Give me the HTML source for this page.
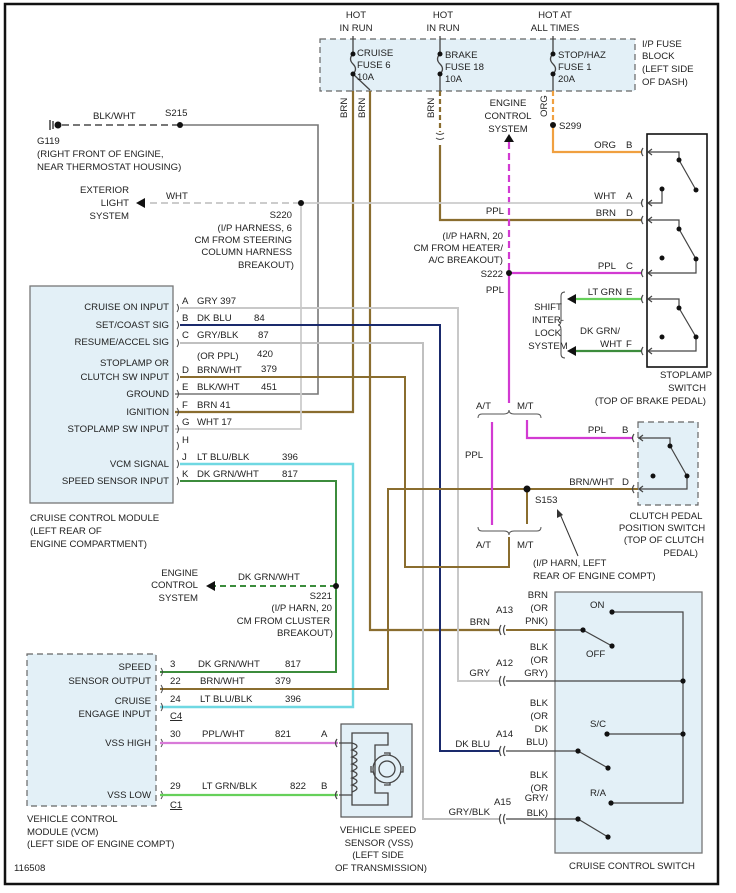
<!DOCTYPE html>
<html><head><meta charset="utf-8"><style>
html,body{margin:0;padding:0;background:#fff;}
svg{display:block;}
text{font-family:"Liberation Sans",sans-serif;font-size:9.6px;fill:#222;}
.r{text-anchor:end}.m{text-anchor:middle}
</style></head><body>
<svg width="736" height="893" viewBox="0 0 736 893" xmlns="http://www.w3.org/2000/svg">
<rect x="0" y="0" width="736" height="893" fill="#fff"/>
<rect x="5" y="4" width="713" height="880" fill="none" stroke="#111" stroke-width="2.5"/>

<!-- Fuse block -->
<rect x="320" y="39" width="315" height="52" fill="#e3f0f7" stroke="#666" stroke-width="1.2" stroke-dasharray="6,4"/>
<text class="m" x="356" y="18">HOT</text><text class="m" x="356" y="31">IN RUN</text>
<text class="m" x="443" y="18">HOT</text><text class="m" x="443" y="31">IN RUN</text>
<text class="m" x="555" y="18">HOT AT</text><text class="m" x="555" y="31">ALL TIMES</text>
<text x="642" y="47">I/P FUSE</text><text x="642" y="59">BLOCK</text><text x="642" y="72">(LEFT SIDE</text><text x="642" y="85">OF DASH)</text>
<g stroke="#444" stroke-width="1.3" fill="none">
<path d="M353 36V54 M353 74V91 M353 54q-5 5 0 10q5 5 0 10 M353 74L370 90"/>
<path d="M440 36V54 M440 74V91 M440 54q-5 5 0 10q5 5 0 10"/>
<path d="M553 36V54 M553 74V91 M553 54q-5 5 0 10q5 5 0 10"/>
</g>
<g fill="#111"><circle cx="353" cy="54" r="2.5"/><circle cx="353" cy="74" r="2.5"/><circle cx="440" cy="54" r="2.5"/><circle cx="440" cy="74" r="2.5"/><circle cx="553" cy="54" r="2.5"/><circle cx="553" cy="74" r="2.5"/></g>
<text x="357" y="56">CRUISE</text><text x="357" y="68">FUSE 6</text><text x="357" y="80">10A</text>
<text x="445" y="58">BRAKE</text><text x="445" y="70">FUSE 18</text><text x="445" y="82">10A</text>
<text x="558" y="58">STOP/HAZ</text><text x="558" y="70">FUSE 1</text><text x="558" y="82">20A</text>
<text transform="translate(347,118) rotate(-90)">BRN</text>
<text transform="translate(365,118) rotate(-90)">BRN</text>
<text transform="translate(434,118) rotate(-90)">BRN</text>
<text transform="translate(547,117) rotate(-90)">ORG</text>

<!-- BRN wires -->
<g stroke="#8a6d2f" stroke-width="2.2" fill="none">
<path d="M353 91V412H175"/>
<path d="M370 91V630H500"/>
<path d="M440 91V132" stroke-dasharray="5,3"/>
<path d="M440 145V220H641"/>
</g>
<path d="M436 133q4 3 8 0 M436 138q4 3 8 0" stroke="#444" fill="none"/>
<!-- ORG -->
<path d="M553 91V125" stroke="#f0a040" stroke-width="2.2" stroke-dasharray="5,3" fill="none"/>
<path d="M553 125V152H641" stroke="#f0a040" stroke-width="2.2" fill="none"/>
<circle cx="553" cy="125" r="3" fill="#111"/><text x="559" y="129">S299</text>

<!-- Engine control system top -->
<text class="m" x="508" y="106">ENGINE</text><text class="m" x="508" y="119">CONTROL</text><text class="m" x="508" y="132">SYSTEM</text>
<path d="M509 134l-5 8h10z" fill="#111"/>
<path d="M509 142V273" stroke="#d23ad2" stroke-width="2.2" stroke-dasharray="7,4" fill="none"/>
<path d="M509 273V403 M509 273H641" stroke="#d23ad2" stroke-width="2.2" fill="none"/>
<circle cx="509" cy="273" r="3" fill="#111"/>
<text class="r" x="504" y="214">PPL</text><text class="r" x="503" y="277">S222</text><text class="r" x="504" y="293">PPL</text>
<text class="r" x="503" y="239">(I/P HARN, 20</text><text class="r" x="503" y="251">CM FROM HEATER/</text><text class="r" x="503" y="263">A/C BREAKOUT)</text>

<!-- Left top: ground & exterior -->
<path d="M50 120V130 M53 121V129" stroke="#111" stroke-width="1.2"/>
<circle cx="58" cy="125" r="3.5" fill="#111"/>
<path d="M62 125H180" stroke="#777" stroke-width="2" stroke-dasharray="7,4"/>
<path d="M180 125H318V394H175" stroke="#777" stroke-width="1.6" fill="none"/>
<circle cx="180" cy="125" r="3" fill="#111"/>
<text x="93" y="119">BLK/WHT</text><text x="165" y="116">S215</text>
<text x="37" y="144">G119</text><text x="37" y="157">(RIGHT FRONT OF ENGINE,</text><text x="37" y="170">NEAR THERMOSTAT HOUSING)</text>
<text class="r" x="129" y="193">EXTERIOR</text><text class="r" x="129" y="206">LIGHT</text><text class="r" x="129" y="219">SYSTEM</text>
<path d="M136 203l9-5v10z" fill="#111"/>
<path d="M150 203H301" stroke="#ccc" stroke-width="2" stroke-dasharray="7,4"/>
<path d="M301 203H641 M301 203V429H175" stroke="#ccc" stroke-width="1.8" fill="none"/>
<circle cx="301" cy="203" r="3" fill="#111"/>
<text x="166" y="199">WHT</text>
<text class="r" x="292" y="218">S220</text><text class="r" x="292" y="231">(I/P HARNESS, 6</text><text class="r" x="292" y="243">CM FROM STEERING</text><text class="r" x="292" y="255">COLUMN HARNESS</text><text class="r" x="294" y="268">BREAKOUT)</text>

<!-- Stoplamp switch -->
<text class="r" x="616" y="148">ORG</text><text x="626" y="148">B</text>
<text class="r" x="616" y="199">WHT</text><text x="626" y="199">A</text>
<text class="r" x="616" y="216">BRN</text><text x="626" y="216">D</text>
<text class="r" x="616" y="269">PPL</text><text x="626" y="269">C</text>
<text class="r" x="622" y="295">LT GRN</text><text x="626" y="295">E</text>
<text class="r" x="620" y="334">DK GRN/</text><text class="r" x="622" y="347">WHT</text><text x="626" y="347">F</text>
<rect x="647" y="134" width="60" height="233" fill="#fff" stroke="#111" stroke-width="1.6"/>
<path d="M575 299H641" stroke="#66d05a" stroke-width="2.2"/>
<path d="M575 351H641" stroke="#3c8c3c" stroke-width="2.2"/>
<path d="M567 299l9-5v10z M567 351l9-5v10z" fill="#111"/>
<path d="M565 292q-4 0-4 4v24q0 5-3 5q3 0 3 5v24q0 4 4 4" stroke="#444" fill="none"/>
<text class="m" x="548" y="310">SHIFT</text><text class="m" x="548" y="323">INTER-</text><text class="m" x="548" y="336">LOCK</text><text class="m" x="548" y="349">SYSTEM</text>
<g stroke="#444" stroke-width="1.2" fill="none">
<path d="M643 148q-3 4 0 8 M643 199q-3 4 0 8 M643 216q-3 4 0 8 M643 269q-3 4 0 8 M643 295q-3 4 0 8 M643 347q-3 4 0 8"/>
<path d="M648 152H679V160L696 190 M648 203H662V190 M648 220H679V229L696 259V273H648 M648 299H679V308L696 337V351H648"/>
<path d="M652 149l-4 3 4 3 M652 200l-4 3 4 3 M652 217l-4 3 4 3 M652 270l-4 3 4 3 M652 296l-4 3 4 3 M652 348l-4 3 4 3"/>
</g>
<g fill="#111"><circle cx="679" cy="160" r="2.5"/><circle cx="696" cy="190" r="2.5"/><circle cx="662" cy="189" r="2.5"/><circle cx="679" cy="229" r="2.5"/><circle cx="696" cy="259" r="2.5"/><circle cx="662" cy="258" r="2.5"/><circle cx="679" cy="308" r="2.5"/><circle cx="696" cy="337" r="2.5"/><circle cx="662" cy="337" r="2.5"/></g>
<text class="m" x="686" y="378">STOPLAMP</text><text class="r" x="706" y="391">SWITCH</text><text class="r" x="706" y="404">(TOP OF BRAKE PEDAL)</text>

<!-- CCM -->
<rect x="30" y="286" width="143" height="217" fill="#e3f0f7" stroke="#777" stroke-width="1.3"/>
<g>
<text class="r" x="169" y="310">CRUISE ON INPUT</text><text class="r" x="169" y="328">SET/COAST SIG</text><text class="r" x="169" y="345">RESUME/ACCEL SIG</text>
<text class="r" x="169" y="366">STOPLAMP OR</text><text class="r" x="169" y="380">CLUTCH SW INPUT</text><text class="r" x="169" y="397">GROUND</text>
<text class="r" x="169" y="415">IGNITION</text><text class="r" x="169" y="432">STOPLAMP SW INPUT</text><text class="r" x="169" y="467">VCM SIGNAL</text><text class="r" x="169" y="484">SPEED SENSOR INPUT</text>
</g>
<g stroke="#444" fill="none"><path d="M177 304q3 4 0 8 M177 321q3 4 0 8 M177 339q3 4 0 8 M177 373q3 4 0 8 M177 390q3 4 0 8 M177 408q3 4 0 8 M177 425q3 4 0 8 M177 442q3 4 0 8 M177 460q3 4 0 8 M177 477q3 4 0 8"/></g>
<text x="182" y="304">A</text><text x="197" y="304">GRY  397</text>
<text x="182" y="321">B</text><text x="197" y="321">DK BLU</text><text x="254" y="321">84</text>
<text x="182" y="338">C</text><text x="197" y="338">GRY/BLK</text><text x="258" y="338">87</text>
<text x="197" y="359">(OR PPL)</text><text x="257" y="357">420</text>
<text x="182" y="373">D</text><text x="197" y="373">BRN/WHT</text><text x="261" y="372">379</text>
<text x="182" y="390">E</text><text x="197" y="390">BLK/WHT</text><text x="261" y="390">451</text>
<text x="182" y="408">F</text><text x="197" y="408">BRN  41</text>
<text x="182" y="425">G</text><text x="197" y="425">WHT  17</text>
<text x="182" y="443">H</text>
<text x="182" y="460">J</text><text x="197" y="460">LT BLU/BLK</text><text x="282" y="460">396</text>
<text x="182" y="477">K</text><text x="197" y="477">DK GRN/WHT</text><text x="282" y="477">817</text>
<text x="30" y="521">CRUISE CONTROL MODULE</text><text x="30" y="534">(LEFT REAR OF</text><text x="30" y="547">ENGINE COMPARTMENT)</text>

<!-- CCM wires -->
<path d="M180 308H458V681H500" stroke="#c8c8c8" stroke-width="2" fill="none"/>
<path d="M180 325H440V751H500" stroke="#1a2a6c" stroke-width="2" fill="none"/>
<path d="M180 343H423V819H500" stroke="#c0c0c0" stroke-width="2" fill="none"/>
<path d="M180 377H405V567H509V537" stroke="#8a6d2f" stroke-width="2" fill="none"/>
<path d="M180 464H353V707H160" stroke="#6fd8e2" stroke-width="2.4" fill="none"/>
<path d="M180 481H336V672H160" stroke="#3c8c3c" stroke-width="2" fill="none"/>
<path d="M641 489H388V689H160" stroke="#8a6d2f" stroke-width="2" fill="none"/>

<!-- A/T M/T -->
<g stroke="#555" fill="none" stroke-width="1"><path d="M478 418q0-4 4-4h22q5 0 5-4q0 4 5 4h23q4 0 4 4"/><path d="M478 527q0 4 4 4h22q5 0 5 4q0-4 5-4h23q4 0 4-4"/></g>
<text x="476" y="409">A/T</text><text x="517" y="409">M/T</text>
<text x="476" y="548">A/T</text><text x="517" y="548">M/T</text>
<path d="M492 422V525" stroke="#d23ad2" stroke-width="2.2"/>
<path d="M527 420V438H633" stroke="#d23ad2" stroke-width="2.2" fill="none"/>
<path d="M527 489V524" stroke="#8a6d2f" stroke-width="2"/>
<circle cx="527" cy="489" r="3.5" fill="#111"/>
<text x="465" y="458">PPL</text>
<text x="535" y="503">S153</text>
<text class="r" x="614" y="485">BRN/WHT</text><text x="622" y="485">D</text>
<text class="r" x="606" y="433">PPL</text><text x="622" y="433">B</text>
<path d="M578 556L560 514" stroke="#333"/><path d="M557 509l0 9l6-3z" fill="#333"/>
<text x="533" y="566">(I/P HARN, LEFT</text><text x="533" y="579">REAR OF ENGINE COMPT)</text>

<!-- Clutch switch -->
<rect x="638" y="422" width="60" height="83" fill="#e3f0f7" stroke="#666" stroke-width="1.2" stroke-dasharray="6,4"/>
<g stroke="#444" stroke-width="1.2" fill="none">
<path d="M634 434q-3 4 0 8 M634 485q-3 4 0 8"/>
<path d="M638 438H670V446L687 476V489H638 M643 435l-4 3 4 3 M643 486l-4 3 4 3"/>
</g>
<g fill="#111"><circle cx="670" cy="446" r="2.5"/><circle cx="687" cy="476" r="2.5"/><circle cx="653" cy="476" r="2.5"/></g>
<text class="m" x="666" y="519">CLUTCH PEDAL</text><text class="m" x="662" y="531">POSITION SWITCH</text><text class="m" x="664" y="543">(TOP OF CLUTCH</text><text class="r" x="698" y="556">PEDAL)</text>

<!-- S221 -->
<path d="M336 586H212" stroke="#3c8c3c" stroke-width="2" stroke-dasharray="6,4"/>
<path d="M206 586l9-5v10z" fill="#111"/>
<circle cx="336" cy="586" r="3" fill="#111"/>
<text class="r" x="198" y="576">ENGINE</text><text class="r" x="198" y="588">CONTROL</text><text class="r" x="198" y="601">SYSTEM</text>
<text x="238" y="580">DK GRN/WHT</text>
<text class="r" x="332" y="599">S221</text><text class="r" x="332" y="611">(I/P HARN, 20</text><text class="r" x="330" y="624">CM FROM CLUSTER</text><text class="r" x="333" y="636">BREAKOUT)</text>

<!-- VCM -->
<rect x="27" y="654" width="129" height="152" fill="#e3f0f7" stroke="#666" stroke-width="1.2" stroke-dasharray="6,4"/>
<text class="r" x="151" y="670">SPEED</text><text class="r" x="151" y="684">SENSOR OUTPUT</text><text class="r" x="151" y="704">CRUISE</text><text class="r" x="151" y="717">ENGAGE INPUT</text>
<text class="r" x="151" y="746">VSS HIGH</text><text class="r" x="151" y="798">VSS LOW</text>
<g stroke="#444" fill="none"><path d="M161 668q3 4 0 8 M161 685q3 4 0 8 M161 703q3 4 0 8 M161 739q3 4 0 8 M161 791q3 4 0 8"/></g>
<text x="170" y="667">3</text><text x="170" y="684">22</text><text x="170" y="702">24</text>
<text x="170" y="719" text-decoration="underline">C4</text>
<text x="170" y="737">30</text><text x="170" y="789">29</text>
<text x="170" y="808" text-decoration="underline">C1</text>
<text x="198" y="667">DK GRN/WHT</text><text x="285" y="667">817</text>
<text x="200" y="684">BRN/WHT</text><text x="275" y="684">379</text>
<text x="200" y="702">LT BLU/BLK</text><text x="285" y="702">396</text>
<text x="202" y="737">PPL/WHT</text><text x="275" y="737">821</text><text x="321" y="737">A</text>
<text x="202" y="789">LT GRN/BLK</text><text x="290" y="789">822</text><text x="321" y="789">B</text>
<path d="M160 743H338" stroke="#d87ad8" stroke-width="2.2"/>
<path d="M160 795H338" stroke="#66d05a" stroke-width="2.2"/>
<text x="27" y="822">VEHICLE CONTROL</text><text x="27" y="835">MODULE (VCM)</text><text x="27" y="847">(LEFT SIDE OF ENGINE COMPT)</text>
<text x="14" y="871">116508</text>

<!-- VSS sensor -->
<rect x="341" y="724" width="71" height="93" fill="#e3f0f7" stroke="#555" stroke-width="1.2"/>
<g stroke="#444" stroke-width="1.3" fill="none">
<path d="M337 739q-3 4 0 8 M337 791q-3 4 0 8"/>
<path d="M339 743H352 M339 795H352"/>
<path d="M352 733H388V745H375V793H388V805H352Z"/>
<path d="M352 743q10 3 0 7q10 3 0 7q10 3 0 7q10 3 0 7q10 3 0 7q10 3 0 7q10 3 0 7"/>
<circle cx="387" cy="769" r="14"/><circle cx="387" cy="769" r="8"/>
<path d="M384 753h6v2 M384 785h6v-2 M371 766v6h2 M403 766v6h-2"/>
</g>
<text class="m" x="378" y="833">VEHICLE SPEED</text><text class="m" x="379" y="846">SENSOR (VSS)</text><text class="m" x="378" y="858">(LEFT SIDE</text><text class="m" x="381" y="871">OF TRANSMISSION)</text>

<!-- Cruise control switch -->
<rect x="555" y="592" width="147" height="261" fill="#e3f0f7" stroke="#777" stroke-width="1.3"/>
<text class="m" x="632" y="869">CRUISE CONTROL SWITCH</text>
<g stroke="#444" stroke-width="1.2" fill="none">
<path d="M501 625q-3 5 0 10 M505 625q-3 5 0 10 M501 676q-3 5 0 10 M505 676q-3 5 0 10 M501 746q-3 5 0 10 M505 746q-3 5 0 10 M501 814q-3 5 0 10 M505 814q-3 5 0 10"/>
<path d="M612 612H683V803H611 M683 681H506 M683 734H607 M583 630L612 646 M506 751H578L608 768 M506 819H578L608 837"/>
</g>
<path d="M506 630H555" stroke="#8a6d2f" stroke-width="2"/><path d="M555 630H583" stroke="#555" stroke-width="1.4"/>
<g fill="#111"><circle cx="612" cy="612" r="2.6"/><circle cx="583" cy="630" r="2.6"/><circle cx="612" cy="646" r="2.6"/><circle cx="683" cy="681" r="2.6"/><circle cx="607" cy="734" r="2.6"/><circle cx="683" cy="734" r="2.6"/><circle cx="578" cy="751" r="2.6"/><circle cx="608" cy="768" r="2.6"/><circle cx="611" cy="803" r="2.6"/><circle cx="578" cy="819" r="2.6"/><circle cx="608" cy="837" r="2.6"/></g>
<text x="590" y="608">ON</text><text x="586" y="657">OFF</text><text x="590" y="727">S/C</text><text x="590" y="796">R/A</text>
<text x="496" y="613">A13</text><text x="496" y="666">A12</text><text x="496" y="737">A14</text><text x="494" y="805">A15</text>
<text class="r" x="490" y="625">BRN</text><text class="r" x="490" y="676">GRY</text><text class="r" x="490" y="747">DK BLU</text><text class="r" x="490" y="815">GRY/BLK</text>
<text class="r" x="548" y="598">BRN</text><text class="r" x="548" y="611">(OR</text><text class="r" x="548" y="624">PNK)</text>
<text class="r" x="548" y="650">BLK</text><text class="r" x="548" y="663">(OR</text><text class="r" x="548" y="676">GRY)</text>
<text class="r" x="548" y="706">BLK</text><text class="r" x="548" y="719">(OR</text><text class="r" x="548" y="732">DK</text><text class="r" x="548" y="745">BLU)</text>
<text class="r" x="548" y="778">BLK</text><text class="r" x="548" y="791">(OR</text><text class="r" x="548" y="801">GRY/</text><text class="r" x="548" y="816">BLK)</text>
</svg>
</body></html>
